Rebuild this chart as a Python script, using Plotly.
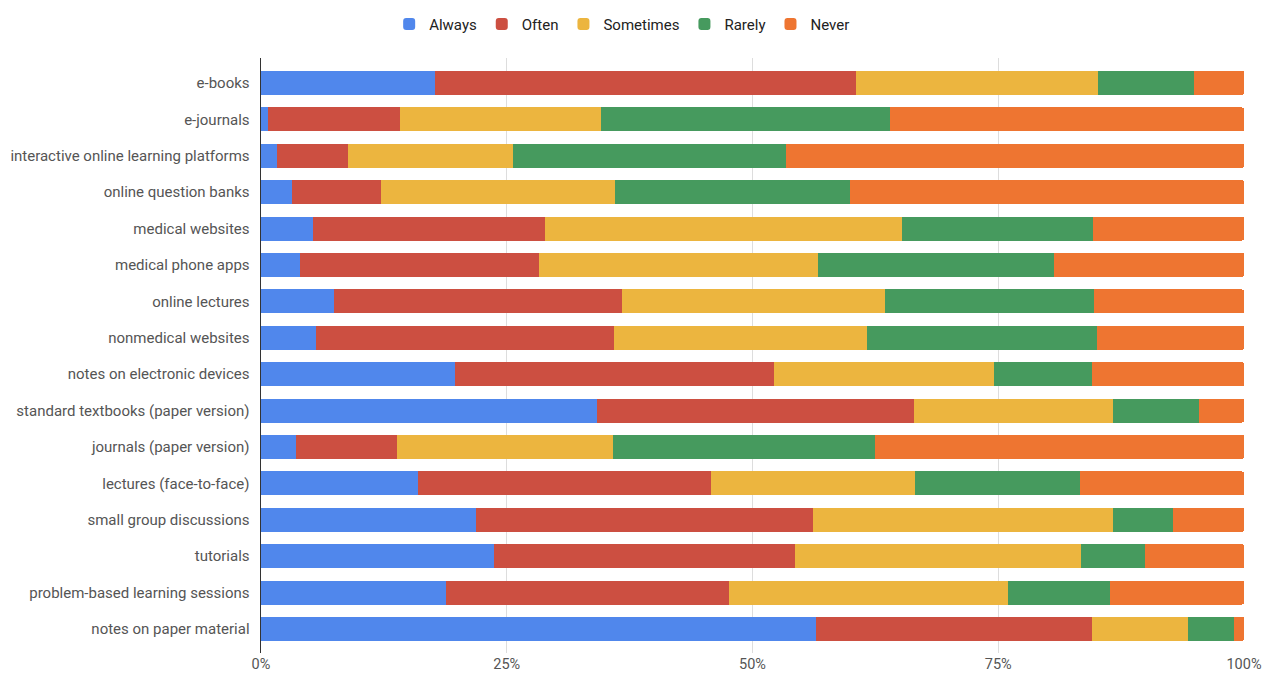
import plotly.graph_objects as go

categories = [
    "e-books", "e-journals", "interactive online learning platforms",
    "online question banks", "medical websites", "medical phone apps",
    "online lectures", "nonmedical websites", "notes on electronic devices",
    "standard textbooks (paper version)", "journals (paper version)",
    "lectures (face-to-face)", "small group discussions", "tutorials",
    "problem-based learning sessions", "notes on paper material",
]

always =    [17.7, 0.7, 1.6, 3.2, 5.3, 4.0, 7.4, 5.6, 19.7, 34.2, 3.6, 16.0, 21.9, 23.7, 18.8, 56.5]
often =     [42.8, 13.4, 7.3, 9.0, 23.6, 24.3, 29.3, 30.3, 32.5, 32.2, 10.2, 29.8, 34.3, 30.6, 28.8, 28.0]
sometimes = [24.6, 20.5, 16.7, 23.8, 36.3, 28.4, 26.8, 25.7, 22.4, 20.3, 22.0, 20.7, 30.5, 29.1, 28.4, 9.8]
rarely =    [9.8, 29.4, 27.8, 23.9, 19.4, 24.0, 21.2, 23.4, 9.9, 8.7, 26.7, 16.8, 6.1, 6.5, 10.4, 4.7]
never =     [5.1, 36.0, 46.6, 40.1, 15.4, 19.3, 15.3, 15.0, 15.5, 4.6, 37.5, 16.7, 7.2, 10.1, 13.6, 1.0]

series_names = ["Always", "Often", "Sometimes", "Rarely", "Never"]
colors = ["#5087EC", "#CC4F41", "#ECB53F", "#469A5E", "#EE7531"]
tick_vals = [0, 25, 50, 75, 100]
tick_text = ["0%", "25%", "50%", "75%", "100%"]

fig = go.Figure()
for name, vals, col in zip(series_names, [always, often, sometimes, rarely, never], colors):
    fig.add_trace(go.Bar(
        y=categories, x=vals, name=name, orientation="h",
        marker=dict(color=col, line=dict(width=0)),
        hovertemplate="%{y}<br>" + name + ": %{x:.1f}%<extra></extra>",
    ))

fig.update_layout(
    barmode="stack",
    bargap=0.34,
    barcornerradius=2,
    width=1262, height=673,
    margin=dict(l=261, r=18, t=58, b=20),
    paper_bgcolor="white", plot_bgcolor="white",
    font=dict(family="Roboto, Arial, sans-serif", size=15, color="#444444"),
    legend=dict(
        orientation="h", xref="container", yref="container",
        x=0.493, xanchor="center", y=0.964, yanchor="middle",
        font=dict(size=15, color="#222222"),
        itemwidth=30, traceorder="normal",
    ),
    xaxis=dict(
        range=[0, 100], tickvals=tick_vals, ticktext=tick_text,
        showgrid=True, gridcolor="#DDDDDD", gridwidth=1,
        zeroline=False, showline=False, ticks="",
        tickfont=dict(size=14.5, color="#555555"),
        automargin=False, fixedrange=True,
    ),
    yaxis=dict(
        categoryorder="array", categoryarray=categories,
        range=[15.66, -0.687],
        showgrid=False, zeroline=False,
        showline=True, linecolor="#333333", linewidth=1,
        ticks="", ticksuffix="  ",
        tickfont=dict(size=15, color="#555555"),
        automargin=False,
    ),
)

fig.write_html("out.html")
